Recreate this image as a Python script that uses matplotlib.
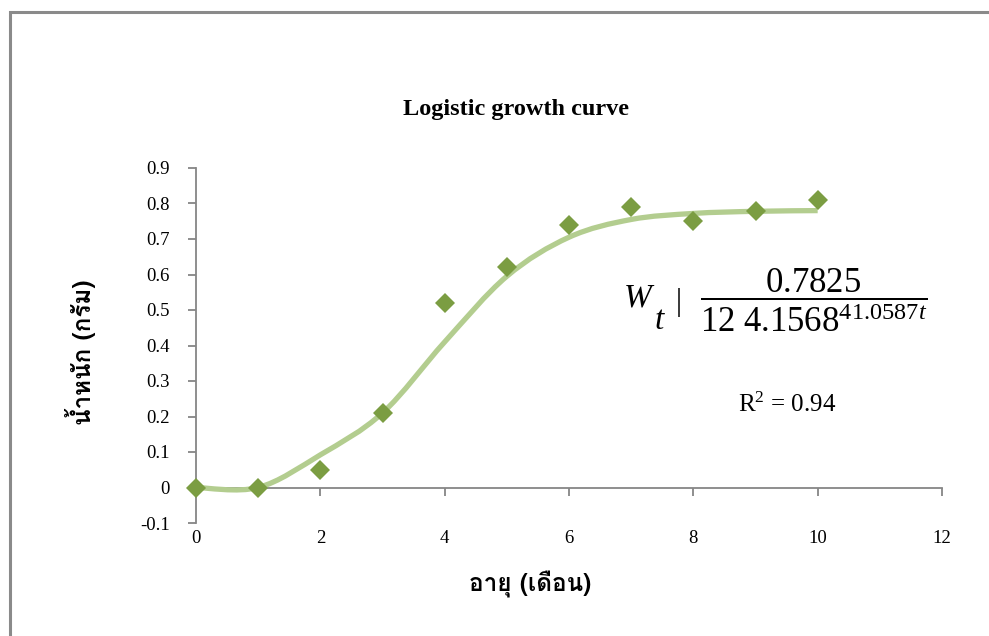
import matplotlib
matplotlib.use("Agg")
import matplotlib.pyplot as plt
from matplotlib import font_manager
from matplotlib.ft2font import FT2Font
from matplotlib.path import Path
from matplotlib.patches import PathPatch, Rectangle

# data
months = [0, 1, 2, 3, 4, 5, 6, 7, 8, 9, 10]
weight = [0.0, 0.0, 0.05, 0.21, 0.52, 0.62, 0.74, 0.79, 0.75, 0.78, 0.81]
fitted = [0.0, 0.0, 0.092, 0.21, 0.41, 0.595, 0.705, 0.755, 0.772, 0.778, 0.78]
xticks = [0, 2, 4, 6, 8, 10, 12]
yticks = [-0.1, 0, 0.1, 0.2, 0.3, 0.4, 0.5, 0.6, 0.7, 0.8, 0.9]
ytick_labels = ["-0.1", "0", "0.1", "0.2", "0.3", "0.4", "0.5", "0.6", "0.7", "0.8", "0.9"]

title = "Logistic growth curve"
xlabel = "อายุ (เดือน)"
ylabel = "น้ำหนัก (กรัม)"

# find something that can draw thai
thai_font = None
for f in font_manager.fontManager.ttflist:
    try:
        if 0x0E19 in FT2Font(f.fname).get_charmap():
            thai_font = f.name
            break
    except Exception:
        pass
thai_family = [thai_font, "DejaVu Sans"] if thai_font else ["DejaVu Sans"]

plt.rcParams["font.family"] = ["Liberation Serif", "DejaVu Serif"]
plt.rcParams["mathtext.fontset"] = "custom"
plt.rcParams["mathtext.rm"] = "Liberation Serif"
plt.rcParams["mathtext.it"] = "Liberation Serif:italic"

W, H = 989, 636
fig = plt.figure(figsize=(W / 100, H / 100), dpi=100)
ax = fig.add_axes([196 / W, 1 - 523 / H, (942 - 196) / W, (523 - 168) / H])

gray = "#868686"
ax.set_xlim(0, 12)
ax.set_ylim(-0.1, 0.9)
for s in ["top", "right", "bottom"]:
    ax.spines[s].set_visible(False)
ax.spines["left"].set_color(gray)
ax.spines["left"].set_linewidth(1.3)
ax.set_yticks(yticks)
ax.set_yticklabels(ytick_labels)
ax.set_xticks(xticks)
ax.tick_params(axis="y", direction="out", length=6, width=1.3, color=gray, pad=13, labelsize=13.5)
ax.tick_params(axis="x", length=0, pad=5, labelsize=13.5)

# x axis line sits at weight 0
sec = ax.secondary_xaxis(0.1)
sec.set_xticks(xticks)
sec.tick_params(direction="out", length=6, width=1.3, color=gray, labelbottom=False)
sec.spines["bottom"].set_color(gray)
sec.spines["bottom"].set_linewidth(1.3)

# smoothed trend line (Excel style bezier through the fitted values)
n = len(months)
verts = [(months[0], fitted[0])]
codes = [Path.MOVETO]
for i in range(n - 1):
    a = i - 1 if i > 0 else i
    b = i + 2 if i + 2 < n else i + 1
    c1 = (months[i] + (months[i + 1] - months[a]) / 6, fitted[i] + (fitted[i + 1] - fitted[a]) / 6)
    c2 = (months[i + 1] - (months[b] - months[i]) / 6, fitted[i + 1] - (fitted[b] - fitted[i]) / 6)
    verts += [c1, c2, (months[i + 1], fitted[i + 1])]
    codes += [Path.CURVE4] * 3
ax.add_patch(PathPatch(Path(verts, codes), fill=False, ec="#B3CD8F", lw=3.8, zorder=2))

ax.plot(months, weight, linestyle="none", marker="D", ms=10.5, color="#7B9D42",
        markeredgewidth=0, zorder=3, clip_on=False)

# equation text
fig.text(638 / W, 1 - 298 / H, "W", style="italic", fontsize=24, ha="center", va="center")
fig.text(659 / W, 1 - 321 / H, "t", style="italic", fontsize=24, ha="center", va="center")
fig.text(679 / W, 1 - 303 / H, "|", fontsize=22, ha="center", va="center")
fig.text(700 / W, 1 - 300 / H, r"$\dfrac{0.7825}{12\ 4.1568^{41.0587t}}$", fontsize=25,
         ha="left", va="center")
fig.text(787 / W, 1 - 405 / H, r"R$^2$ = 0.94", fontsize=18, ha="center", va="center")

fig.text(516 / W, 1 - 110 / H, title, fontsize=17.5, fontweight="bold", ha="center", va="center")
fig.text(530 / W, 1 - 585 / H, xlabel, family=thai_family, fontsize=17.5, fontweight="bold",
         ha="center", va="center")
fig.text(80 / W, 1 - 352 / H, ylabel, family=thai_family, fontsize=17.5, fontweight="bold",
         ha="center", va="center", rotation=90)

# outer chart frame (runs off the right and bottom)
fig.patches.append(Rectangle((9.5 / W, -0.1), 1.2, 1.1 - 11.5 / H, transform=fig.transFigure,
                             fill=False, ec="#8A8A8A", lw=2.2))

plt.savefig("out.png", dpi=100)
